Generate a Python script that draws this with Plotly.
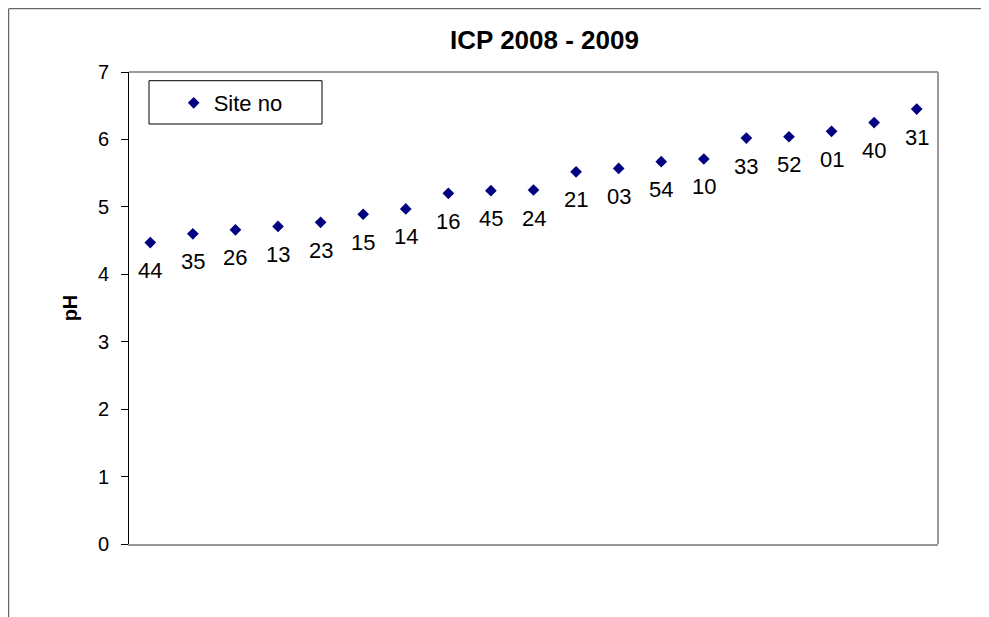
import plotly.graph_objects as go

sites = ["44", "35", "26", "13", "23", "15", "14", "16", "45", "24",
         "21", "03", "54", "10", "33", "52", "01", "40", "31"]
ph = [4.47, 4.60, 4.66, 4.71, 4.77, 4.89, 4.97, 5.20, 5.24, 5.25,
      5.52, 5.57, 5.67, 5.71, 6.02, 6.04, 6.12, 6.25, 6.45]
x_pos = list(range(1, len(sites) + 1))
y_ticks = [0, 1, 2, 3, 4, 5, 6, 7]

FONT = "Liberation Sans, Arial, sans-serif"
OFF = 8  # page body margin
W, H = 981, 609
# plot area in window pixels
PX0, PX1, PY0, PY1 = 129.3, 938.3, 72.3, 544.3
L = PX0 - OFF
T = PY0 - OFF
R = W - (PX1 - OFF)
B = H - (PY1 - OFF)
pw, phh = W - L - R, H - T - B


def px_x(p):
    return (p - PX0) / pw


def px_y(p):
    return 1 - (p - PY0) / phh


fig = go.Figure()
fig.add_trace(go.Scatter(
    x=x_pos, y=ph, mode="markers", name="Site no",
    marker=dict(symbol="diamond", size=9, color="#000080"),
))

for xi, yi, s in zip(x_pos, ph, sites):
    fig.add_annotation(x=xi, y=yi, text=s, showarrow=False, yshift=-28,
                       font=dict(family=FONT, size=22, color="black"))

# outer chart border (cropped)
fig.add_shape(type="line", xref="paper", yref="paper",
              x0=px_x(9), x1=px_x(9), y0=px_y(9), y1=px_y(640),
              line=dict(color="#444444", width=1))
fig.add_shape(type="line", xref="paper", yref="paper",
              x0=px_x(9), x1=px_x(1010), y0=px_y(9), y1=px_y(9),
              line=dict(color="#444444", width=1))
# plot area border (top, right)
fig.add_shape(type="line", xref="paper", yref="paper",
              x0=0, x1=1, y0=1, y1=1, line=dict(color="#999999", width=2))
fig.add_shape(type="line", xref="paper", yref="paper",
              x0=1, x1=1, y0=0, y1=1, line=dict(color="#999999", width=2))
# legend box
fig.add_shape(type="rect", xref="paper", yref="paper",
              x0=px_x(149.3), x1=px_x(322.3), y0=px_y(124.3), y1=px_y(81),
              line=dict(color="black", width=1), fillcolor="white", layer="below")

fig.update_layout(
    width=W, height=H,
    margin=dict(l=L, r=R, t=T, b=B, pad=0),
    paper_bgcolor="white", plot_bgcolor="white",
    title=dict(text="<b>ICP 2008 - 2009</b>", x=(544.5 - OFF) / W, xanchor="center",
               y=1 - (39.5 - OFF) / H, yanchor="middle",
               font=dict(family=FONT, size=26, color="black")),
    showlegend=True,
    legend=dict(x=px_x(174), y=px_y(103.3), xanchor="left", yanchor="middle",
                borderwidth=0, bgcolor="rgba(0,0,0,0)",
                font=dict(family=FONT, size=22, color="black"),
                itemwidth=30),
    xaxis=dict(range=[0.5, 19.5], showticklabels=False, showgrid=False,
               zeroline=False, showline=True, linecolor="#999999", linewidth=2,
               ticks=""),
    yaxis=dict(range=[0, 7], tickvals=y_ticks, showgrid=False, zeroline=False,
               showline=True, linecolor="black", linewidth=1,
               ticks="outside", ticklen=7, tickcolor="black",
               ticklabelstandoff=8,
               tickfont=dict(family=FONT, size=20, color="black"),
               title=dict(text="<b>pH</b>", standoff=14,
                          font=dict(family=FONT, size=20, color="black"))),
)

fig.write_html("out.html")
